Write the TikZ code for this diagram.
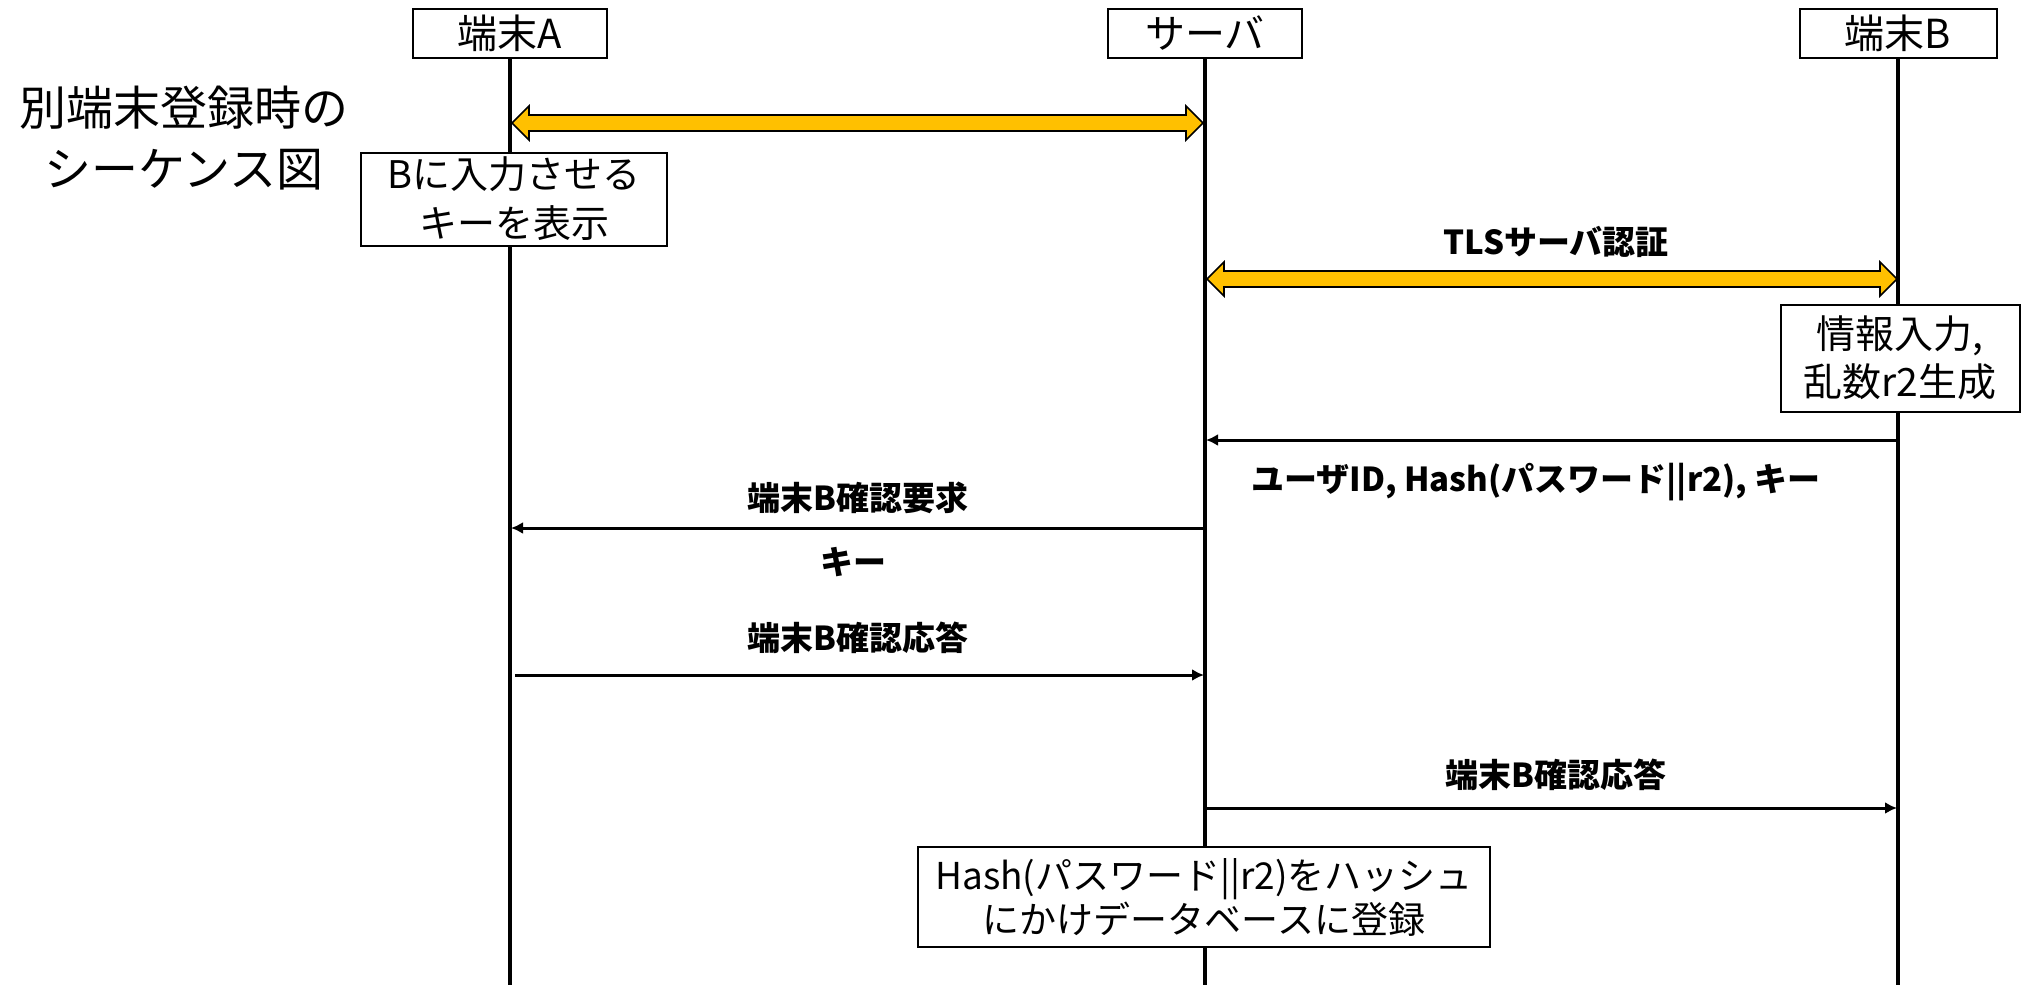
\documentclass[tikz,border=0pt]{standalone}
\usepackage{fontspec}
\setmainfont{Noto Sans CJK JP}
\usetikzlibrary{arrows.meta,calc}
\definecolor{gold}{HTML}{FFC000}
\begin{document}
\begin{tikzpicture}[x=0.5pt,y=-0.5pt,
  actor/.style={draw, line width=1pt, fill=white, minimum width=97pt, minimum height=24.5pt, inner sep=0pt, font=\fontsize{20}{24}\selectfont},
  life/.style={line width=1.6pt},
  msg/.style={line width=1.5pt, -{Latex[length=6pt,width=6pt]}},
  lbl/.style={inner sep=0pt, font=\bfseries\fontsize{16.5}{20}\selectfont},
  note/.style={draw, fill=white, line width=1pt, align=center, inner sep=0pt},
  yarrow/.style={fill=gold, draw=black, line width=0.8pt, line join=miter}]
\useasboundingbox (0,0) rectangle (2024,985);
% title
\node[align=center, inner sep=0pt, font=\fontsize{23.5}{30.5}\selectfont] (ttl) at (184,138) {別端末登録時の\\シーケンス図};
% actors
\node[actor] (A) at (510,33) {端末A};
\node[actor] (S) at (1205,33) {サーバ};
\node[actor, minimum width=98.5pt] (B) at (1898,33) {端末B};
\coordinate (Aend) at (510,985);
\coordinate (Send) at (1205,985);
\coordinate (Bend) at (1898,985);
\draw[life] (A.south) -- (Aend);
\draw[life] (S.south) -- (Send);
\draw[life] (B.south) -- (Bend);
% notes
\node[note, minimum width=153pt, minimum height=46.5pt, font=\fontsize{19}{24.5}\selectfont] (keybox) at (514,199) {Bに入力させる\\キーを表示};
\node[note, minimum width=119.5pt, minimum height=53.5pt, font=\fontsize{19.5}{24}\selectfont] (info) at (1900,358) {情報入力,\\乱数r2生成};
\node[note, minimum width=286pt, minimum height=50pt, font=\fontsize{18.5}{22}\selectfont] (hashbox) at (1204,897) {Hash(パスワード||r2)をハッシュ\\にかけデータベースに登録};
% yellow double arrow A <-> S
\coordinate (y1l) at (512,123);
\coordinate (y1r) at (1203,123);
\draw[yarrow] (y1l) -- ($(y1l)+(17,-17)$) -- ($(y1l)+(17,-8)$) -- ($(y1r)+(-17,-8)$) -- ($(y1r)+(-17,-17)$) -- (y1r) -- ($(y1r)+(-17,17)$) -- ($(y1r)+(-17,8)$) -- ($(y1l)+(17,8)$) -- ($(y1l)+(17,17)$) -- cycle;
% TLS double arrow S <-> B
\coordinate (y2l) at (1207,279);
\coordinate (y2r) at (1897,279);
\draw[yarrow] (y2l) -- ($(y2l)+(17,-17)$) -- ($(y2l)+(17,-8)$) -- ($(y2r)+(-17,-8)$) -- ($(y2r)+(-17,-17)$) -- (y2r) -- ($(y2r)+(-17,17)$) -- ($(y2r)+(-17,8)$) -- ($(y2l)+(17,8)$) -- ($(y2l)+(17,17)$) -- cycle;
\node[lbl] (tls) at (1556,242) {TLSサーバ認証};
% messages
\coordinate (m1s) at (1898,440);
\coordinate (m1e) at (1206,440);
\draw[msg] (m1s) -- (m1e);
\node[lbl] (m1l) at (1536,482) {ユーザID, Hash(パスワード||r2), キー};
\coordinate (m2s) at (1205,528);
\coordinate (m2e) at (511,528);
\draw[msg] (m2s) -- (m2e);
\node[lbl] (m2l) at (858,498) {端末B確認要求};
\node[lbl] (m2k) at (853,562) {キー};
\coordinate (m3s) at (515,675);
\coordinate (m3e) at (1204,675);
\draw[msg] (m3s) -- (m3e);
\node[lbl] (m3l) at (858,638) {端末B確認応答};
\coordinate (m4s) at (1205,808);
\coordinate (m4e) at (1897,808);
\draw[msg] (m4s) -- (m4e);
\node[lbl] (m4l) at (1556,775) {端末B確認応答};
\end{tikzpicture}
\end{document}
